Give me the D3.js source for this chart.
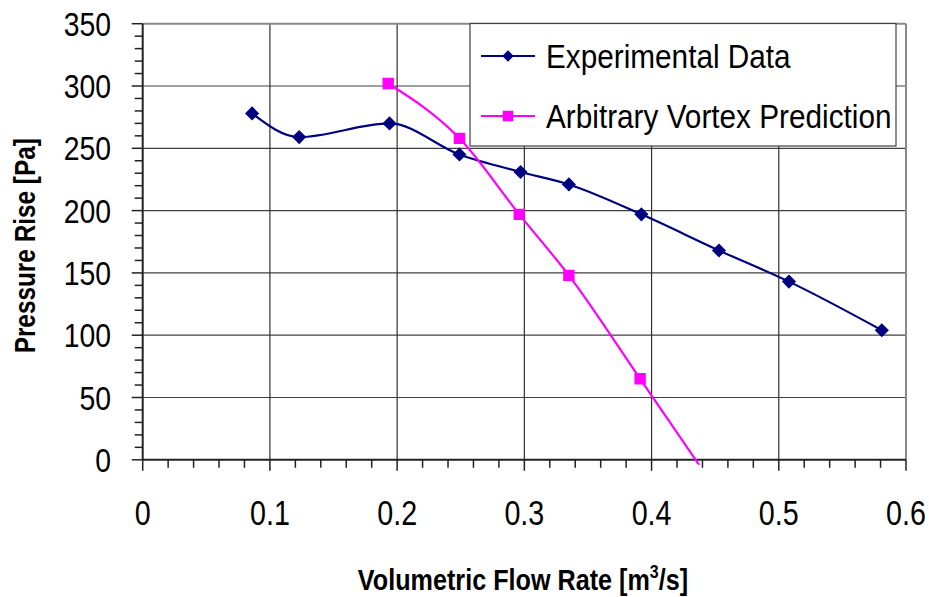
<!DOCTYPE html>
<html>
<head>
<meta charset="utf-8">
<script src="https://cdn.jsdelivr.net/npm/d3@7"></script>
<style>
  body { margin: 0; background: #fff; }
  svg { display: block; }
  text { fill: #000; font-family: 'Liberation Sans', Arial, sans-serif; }
</style>
</head>
<body>
<svg id="chart" width="929" height="597"></svg>
<script>
// data
var expFlow = [0.086, 0.123, 0.194, 0.249, 0.297, 0.335, 0.392, 0.453, 0.508, 0.581];
var expPressure = [278, 259, 270, 245, 231, 221, 197, 168, 143, 104];
var predFlow = [0.193, 0.249, 0.296, 0.335, 0.391, 0.438];
var predPressure = [302, 258, 197, 148, 65, -5];
var xTicks = [0, 0.1, 0.2, 0.3, 0.4, 0.5, 0.6];
var yTicks = [0, 50, 100, 150, 200, 250, 300, 350];
var seriesNames = ["Experimental Data", "Arbitrary Vortex Prediction"];

var svg = d3.select("#chart");
// "top" is taken by window.top, so plot edges get their own names
var pL = 142.7, pR = 906, pT = 23.7, pB = 459.8;

var x = d3.scaleLinear().domain([0, 0.6]).range([pL, pR]);
var y = d3.scaleLinear().domain([0, 350]).range([pB, pT]);

// text in the original is narrower than Liberation Sans -> squeeze horizontally
function place(sel, tx, ty, k, rot) {
  return sel.attr("transform", "translate(" + tx + "," + ty + ")" + (rot ? " rotate(" + rot + ")" : "") + " scale(" + k + ",1)");
}

var defs = svg.append("defs");
defs.append("clipPath").attr("id", "lineclip")
  .append("rect").attr("x", pL).attr("y", pT - 10).attr("width", pR - pL).attr("height", pB - pT + 15);
defs.append("clipPath").attr("id", "markclip")
  .append("rect").attr("x", pL - 8).attr("y", pT - 10).attr("width", pR - pL + 16).attr("height", pB - pT + 10);

// grid
svg.append("g").selectAll("line").data(yTicks.slice(1, -1)).enter().append("line")
  .attr("x1", pL).attr("x2", pR)
  .attr("y1", d => y(d)).attr("y2", d => y(d))
  .attr("stroke", "#404040").attr("stroke-width", 1.2);
svg.append("g").selectAll("line").data(xTicks.slice(1, -1)).enter().append("line")
  .attr("y1", pT).attr("y2", pB)
  .attr("x1", d => x(d)).attr("x2", d => x(d))
  .attr("stroke", "#303030").attr("stroke-width", 1.2);

// top & right frame
svg.append("line").attr("x1", pL).attr("x2", pR).attr("y1", pT).attr("y2", pT)
  .attr("stroke", "#8a8a8a").attr("stroke-width", 2);
svg.append("line").attr("x1", pR).attr("x2", pR).attr("y1", pT).attr("y2", pB)
  .attr("stroke", "#8a8a8a").attr("stroke-width", 2);

// y axis: minor every 10, major every 50
var yMinor = d3.range(0, 351, 10);
svg.append("g").selectAll("line").data(yMinor).enter().append("line")
  .attr("x1", d => d % 50 == 0 ? pL - 11 : pL - 8).attr("x2", pL)
  .attr("y1", d => y(d)).attr("y2", d => y(d))
  .attr("stroke", "#222").attr("stroke-width", 1.5);
svg.append("line").attr("x1", pL).attr("x2", pL).attr("y1", pT).attr("y2", pB)
  .attr("stroke", "#222").attr("stroke-width", 2);

// x axis: minor every 0.02, major every 0.1
var xMinor = d3.range(0, 31).map(i => i * 0.02);
svg.append("g").selectAll("line").data(xMinor).enter().append("line")
  .attr("x1", d => x(d)).attr("x2", d => x(d))
  .attr("y1", pB).attr("y2", (d, i) => i % 5 == 0 ? pB + 11 : pB + 8)
  .attr("stroke", "#222").attr("stroke-width", 1.5);
svg.append("line").attr("x1", pL).attr("x2", pR).attr("y1", pB).attr("y2", pB)
  .attr("stroke", "#222").attr("stroke-width", 2);

// tick labels
svg.append("g").selectAll("text").data(yTicks).enter().append("text")
  .each(function (d) { place(d3.select(this), 111, y(d) + 12, 0.86); })
  .attr("text-anchor", "end")
  .style("font-size", "33px")
  .text(d => d);
svg.append("g").selectAll("text").data(xTicks).enter().append("text")
  .each(function (d) { place(d3.select(this), x(d), 525, 0.82); })
  .attr("text-anchor", "middle")
  .style("font-size", "35px")
  .text(d => d === 0 ? "0" : d3.format(".1f")(d));

// axis titles
var xt = svg.append("text")
  .attr("text-anchor", "middle")
  .style("font-size", "30px").style("font-weight", "bold");
place(xt, 523, 590, 0.84);
xt.append("tspan").text("Volumetric Flow Rate [m");
xt.append("tspan").attr("dy", -12).style("font-size", "19px").text("3");
xt.append("tspan").attr("dy", 12).text("/s]");

var yt = svg.append("text")
  .attr("text-anchor", "middle")
  .style("font-size", "29px").style("font-weight", "bold")
  .text("Pressure Rise [Pa]");
place(yt, 35, (pT + pB) / 2 + 4, 0.84, -90);

// series
var line = d3.line().x(d => x(d[0])).y(d => y(d[1])).curve(d3.curveMonotoneX);
var expPts = d3.zip(expFlow, expPressure);
var predPts = d3.zip(predFlow, predPressure);

svg.append("path").datum(expPts).attr("d", line)
  .attr("fill", "none").attr("stroke", "#000080").attr("stroke-width", 2.2)
  .attr("clip-path", "url(#lineclip)");
svg.append("path").datum(predPts).attr("d", line)
  .attr("fill", "none").attr("stroke", "#ff00ff").attr("stroke-width", 2.2)
  .attr("clip-path", "url(#lineclip)");

var diamond = d3.symbol().type(d3.symbolSquare).size(100);
var square = d3.symbol().type(d3.symbolSquare).size(130);

svg.append("g").attr("clip-path", "url(#markclip)").selectAll("path").data(expPts).enter().append("path")
  .attr("d", diamond)
  .attr("transform", d => "translate(" + x(d[0]) + "," + y(d[1]) + ") rotate(45)")
  .attr("fill", "#000080");
svg.append("g").attr("clip-path", "url(#markclip)").selectAll("path").data(predPts).enter().append("path")
  .attr("d", square)
  .attr("transform", d => "translate(" + x(d[0]) + "," + y(d[1]) + ")")
  .attr("fill", "#ff00ff");

// legend
var lg = svg.append("g");
lg.append("rect").attr("x", 470).attr("y", 23.5).attr("width", 426).attr("height", 122.5)
  .attr("fill", "#fff").attr("stroke", "#404040").attr("stroke-width", 1.2);
var colors = ["#000080", "#ff00ff"];
var rowY = [56, 116];
seriesNames.forEach(function (name, i) {
  lg.append("line").attr("x1", 481).attr("x2", 535).attr("y1", rowY[i]).attr("y2", rowY[i])
    .attr("stroke", colors[i]).attr("stroke-width", 2.2);
  lg.append("path")
    .attr("d", d3.symbol().type(d3.symbolSquare).size(i == 0 ? 66 : 110)())
    .attr("transform", "translate(508," + rowY[i] + ")" + (i == 0 ? " rotate(45)" : ""))
    .attr("fill", colors[i]);
  var t = lg.append("text").style("font-size", "34px").text(name);
  place(t, 546, rowY[i] + 12, 0.875);
});
</script>
</body>
</html>
